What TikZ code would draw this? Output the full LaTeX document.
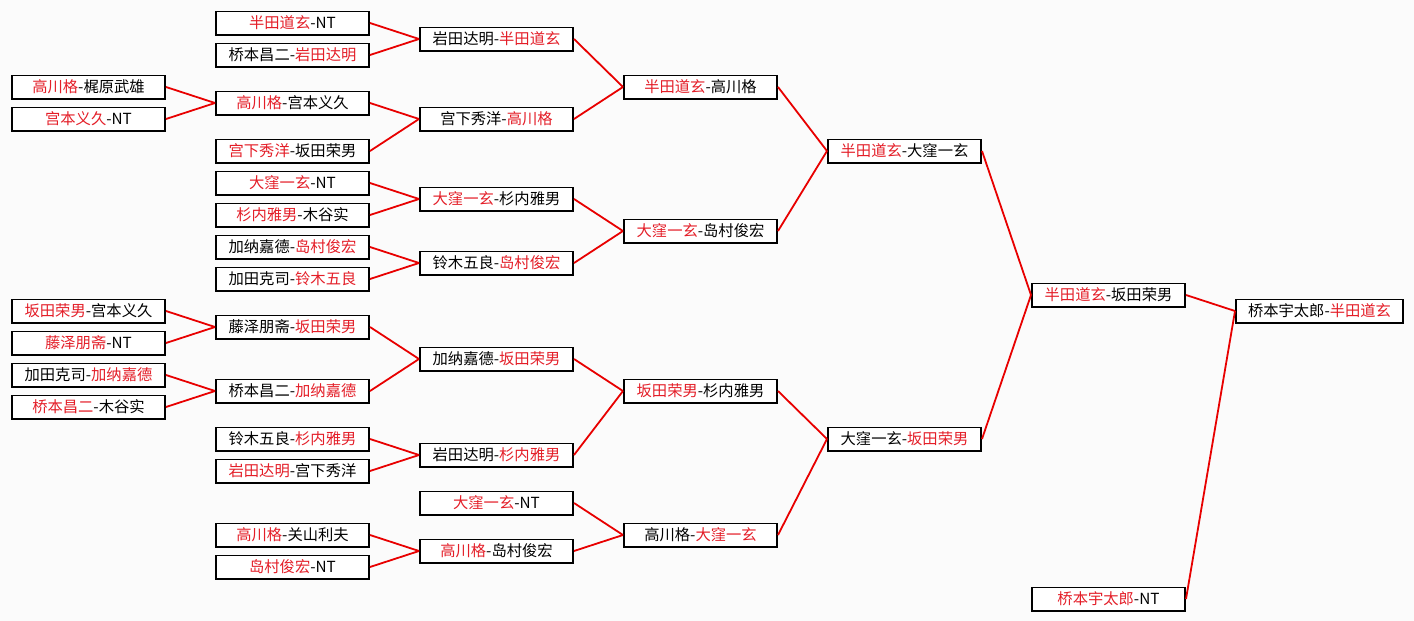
\documentclass[tikz,border=0pt]{standalone}
\usepackage{fontspec}
\setmainfont{Noto Sans CJK SC}
\definecolor{winc}{RGB}{228,30,40}
\definecolor{linec}{RGB}{232,0,0}
\definecolor{bgc}{RGB}{251,251,251}
\newcommand\winr[1]{\textcolor{winc}{#1}}
\tikzset{
  pbox/.style={draw=black, line width=1.8pt, fill=white, minimum width=153.2pt, minimum height=23.2pt,
    inner sep=0pt, anchor=west, font=\fontsize{15.3}{17}\selectfont},
  conn/.style={draw=linec, line width=1.8pt}
}
\begin{document}
\begin{tikzpicture}[x=1pt,y=-1pt]
\fill[bgc] (0,0) rectangle (1414,621);
\useasboundingbox (0,0) rectangle (1414,621);
% column 1
\node[pbox] (a1) at (11,87) {\winr{高川格}-梶原武雄};
\node[pbox] (a2) at (11,119) {\winr{宫本义久}-NT};
\node[pbox] (a3) at (11,311) {\winr{坂田荣男}-宫本义久};
\node[pbox] (a4) at (11,343) {\winr{藤泽朋斋}-NT};
\node[pbox] (a5) at (11,375) {加田克司-\winr{加纳嘉德}};
\node[pbox] (a6) at (11,407) {\winr{桥本昌二}-木谷实};
% column 2
\node[pbox] (b1) at (215,23) {\winr{半田道玄}-NT};
\node[pbox] (b2) at (215,55) {桥本昌二-\winr{岩田达明}};
\node[pbox] (b3) at (215,103) {\winr{高川格}-宫本义久};
\node[pbox] (b4) at (215,151) {\winr{宫下秀洋}-坂田荣男};
\node[pbox] (b5) at (215,183) {\winr{大窪一玄}-NT};
\node[pbox] (b6) at (215,215) {\winr{杉内雅男}-木谷实};
\node[pbox] (b7) at (215,247) {加纳嘉德-\winr{岛村俊宏}};
\node[pbox] (b8) at (215,279) {加田克司-\winr{铃木五良}};
\node[pbox] (b9) at (215,327) {藤泽朋斋-\winr{坂田荣男}};
\node[pbox] (b10) at (215,391) {桥本昌二-\winr{加纳嘉德}};
\node[pbox] (b11) at (215,439) {铃木五良-\winr{杉内雅男}};
\node[pbox] (b12) at (215,471) {\winr{岩田达明}-宫下秀洋};
\node[pbox] (b13) at (215,535) {\winr{高川格}-关山利夫};
\node[pbox] (b14) at (215,567) {\winr{岛村俊宏}-NT};
% column 3
\node[pbox] (c1) at (419,39) {岩田达明-\winr{半田道玄}};
\node[pbox] (c2) at (419,119) {宫下秀洋-\winr{高川格}};
\node[pbox] (c3) at (419,199) {\winr{大窪一玄}-杉内雅男};
\node[pbox] (c4) at (419,263) {铃木五良-\winr{岛村俊宏}};
\node[pbox] (c5) at (419,359) {加纳嘉德-\winr{坂田荣男}};
\node[pbox] (c6) at (419,455) {岩田达明-\winr{杉内雅男}};
\node[pbox] (c7) at (419,503) {\winr{大窪一玄}-NT};
\node[pbox] (c8) at (419,551) {\winr{高川格}-岛村俊宏};
% column 4
\node[pbox] (d1) at (623,87) {\winr{半田道玄}-高川格};
\node[pbox] (d2) at (623,231) {\winr{大窪一玄}-岛村俊宏};
\node[pbox] (d3) at (623,391) {\winr{坂田荣男}-杉内雅男};
\node[pbox] (d4) at (623,535) {高川格-\winr{大窪一玄}};
% column 5
\node[pbox] (e1) at (827,151) {\winr{半田道玄}-大窪一玄};
\node[pbox] (e2) at (827,439) {大窪一玄-\winr{坂田荣男}};
% column 6
\node[pbox] (f1) at (1031,295) {\winr{半田道玄}-坂田荣男};
\node[pbox] (f2) at (1031,599) {\winr{桥本宇太郎}-NT};
% column 7
\node[pbox, minimum width=167.2pt] (g1) at (1235,311) {桥本宇太郎-\winr{半田道玄}};
% connectors
\draw[conn] (a1.east) -- (b3.west);
\draw[conn] (a2.east) -- (b3.west);
\draw[conn] (a3.east) -- (b9.west);
\draw[conn] (a4.east) -- (b9.west);
\draw[conn] (a5.east) -- (b10.west);
\draw[conn] (a6.east) -- (b10.west);
\draw[conn] (b1.east) -- (c1.west);
\draw[conn] (b2.east) -- (c1.west);
\draw[conn] (b3.east) -- (c2.west);
\draw[conn] (b4.east) -- (c2.west);
\draw[conn] (b5.east) -- (c3.west);
\draw[conn] (b6.east) -- (c3.west);
\draw[conn] (b7.east) -- (c4.west);
\draw[conn] (b8.east) -- (c4.west);
\draw[conn] (b9.east) -- (c5.west);
\draw[conn] (b10.east) -- (c5.west);
\draw[conn] (b11.east) -- (c6.west);
\draw[conn] (b12.east) -- (c6.west);
\draw[conn] (b13.east) -- (c8.west);
\draw[conn] (b14.east) -- (c8.west);
\draw[conn] (c1.east) -- (d1.west);
\draw[conn] (c2.east) -- (d1.west);
\draw[conn] (c3.east) -- (d2.west);
\draw[conn] (c4.east) -- (d2.west);
\draw[conn] (c5.east) -- (d3.west);
\draw[conn] (c6.east) -- (d3.west);
\draw[conn] (c7.east) -- (d4.west);
\draw[conn] (c8.east) -- (d4.west);
\draw[conn] (d1.east) -- (e1.west);
\draw[conn] (d2.east) -- (e1.west);
\draw[conn] (d3.east) -- (e2.west);
\draw[conn] (d4.east) -- (e2.west);
\draw[conn] (e1.east) -- (f1.west);
\draw[conn] (e2.east) -- (f1.west);
\draw[conn] (f1.east) -- (g1.west);
\draw[conn] (f2.east) -- (g1.west);
\end{tikzpicture}
\end{document}
